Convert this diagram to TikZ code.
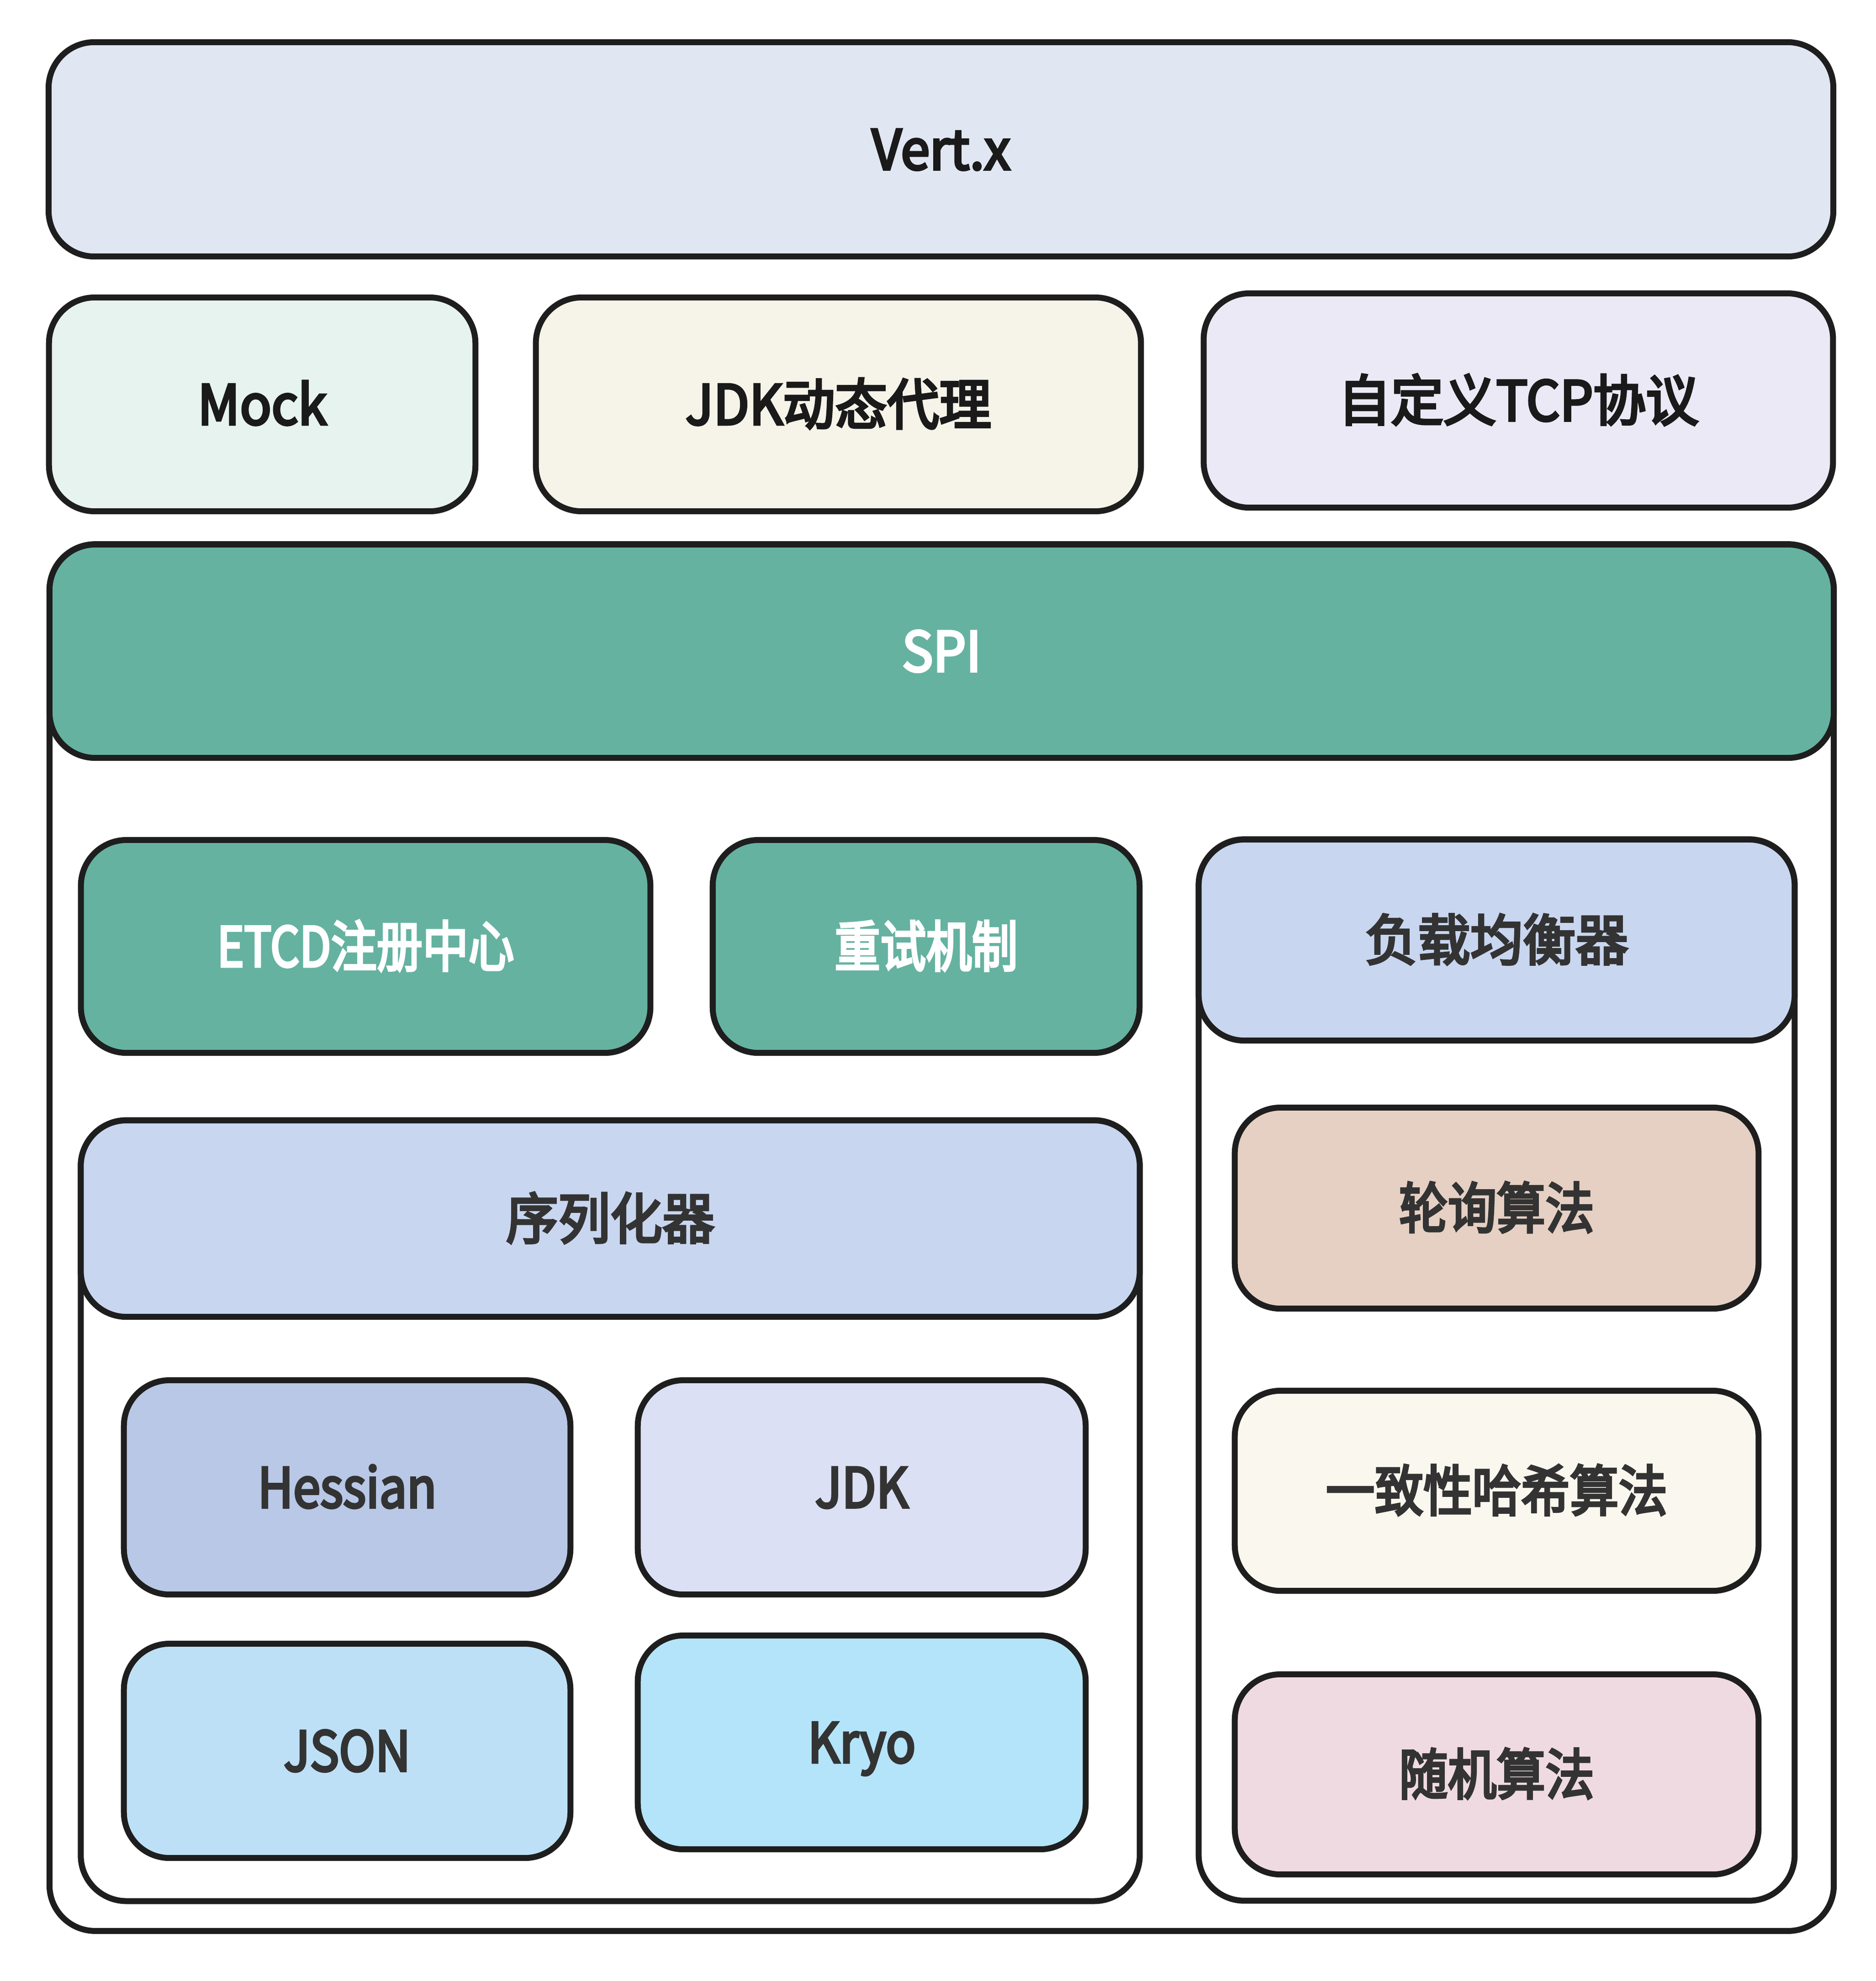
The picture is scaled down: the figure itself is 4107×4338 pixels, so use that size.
\documentclass[tikz,border=0pt]{standalone}
\usepackage{fontspec}
\usepackage{graphicx}
\newfontfamily\cjkfont[FakeBold=4.5]{Noto Sans CJK SC}
\newcommand\sqz[2]{\scalebox{#1}[1]{#2}}
\definecolor{linec}{HTML}{1E1E1E}
\definecolor{txtdark}{HTML}{333333}
\definecolor{txtblack}{HTML}{1A1A1A}
\definecolor{cvertx}{HTML}{E0E6F2}
\definecolor{cmock}{HTML}{E6F3EF}
\definecolor{cproxy}{HTML}{F6F3E8}
\definecolor{ctcp}{HTML}{EBE9F6}
\definecolor{cgreen}{HTML}{65B2A1}
\definecolor{cheader}{HTML}{C8D6F0}
\definecolor{cround}{HTML}{E5D0C3}
\definecolor{chash}{HTML}{FAF7EE}
\definecolor{crand}{HTML}{F0DAE1}
\definecolor{chess}{HTML}{B8C8E6}
\definecolor{cjdk}{HTML}{DBE0F4}
\definecolor{cjson}{HTML}{BEE0F6}
\definecolor{ckryo}{HTML}{B3E4FA}
\tikzset{
  box/.style={draw=linec, line width=0.13cm, rounded corners=1cm, inner sep=0pt,
    font={\cjkfont\fontsize{34.14pt}{40pt}\selectfont}, text=txtdark,
    text height=0.88cm, text depth=0cm, align=center},
  frame/.style={box, fill=white},
  dims/.style 2 args={minimum width=#1cm, minimum height=#2cm}
}
\begin{document}
\begin{tikzpicture}[x=0.01cm,y=-0.01cm]
\useasboundingbox (0,0) rectangle (4107,4338);
% top layer
\node[box, fill=cvertx, text=txtblack, dims={39.05}{4.69}] (vertx) at (2060,327) {\sqz{0.95}{Vert.x}};
\node[box, fill=cmock, text=txtblack, dims={9.33}{4.68}] (mock) at (574,885.5) {\sqz{0.95}{Mock}};
\node[box, fill=cproxy, text=txtblack, dims={13.24}{4.68}] (proxy) at (1835.5,885.5) {\sqz{0.95}{JDK动态代理}};
\node[box, fill=ctcp, text=txtblack, dims={13.77}{4.69}] (tcp) at (3324,877) {\sqz{0.96}{自定义TCP协议}};
% SPI container
\node[frame, dims={39.04}{30.35}] (spiframe) at (2061.5,2710) {};
\node[box, fill=cgreen, text=white, dims={39.04}{4.67}] (spi) at (2061.5,1426) {\sqz{0.95}{SPI}};
\node[box, fill=cgreen, text=white, dims={12.46}{4.66}] (etcd) at (800.5,2072.5) {\sqz{0.835}{ETCD注册中心}};
\node[box, fill=cgreen, text=white, dims={9.34}{4.66}] (retry) at (2027.5,2072.5) {\sqz{0.835}{重试机制}};
% serializer container
\node[frame, dims={23.17}{17.09}] (serframe) at (1336,3308) {};
\node[box, fill=cheader, dims={23.17}{4.30}] (ser) at (1336,2668.5) {\sqz{0.95}{序列化器}};
\node[box, fill=chess, dims={9.77}{4.69}] (hessian) at (760,3257) {\sqz{0.89}{Hessian}};
\node[box, fill=cjdk, dims={9.80}{4.69}] (jdk) at (1886.5,3257) {\sqz{0.91}{JDK}};
\node[box, fill=cjson, dims={9.77}{4.69}] (json) at (760,3834) {\sqz{0.89}{JSON}};
\node[box, fill=ckryo, dims={9.80}{4.68}] (kryo) at (1886.5,3815.5) {\sqz{0.9}{Kryo}};
% load balancer container
\node[frame, dims={13.04}{23.23}] (lbframe) at (3276.5,3000) {};
\node[box, fill=cheader, dims={13.04}{4.40}] (lb) at (3276.5,2058.5) {\sqz{0.96}{负载均衡器}};
\node[box, fill=cround, dims={11.46}{4.40}] (roundrobin) at (3276.5,2645.5) {\sqz{0.89}{轮询算法}};
\node[box, fill=chash, dims={11.46}{4.38}] (hash) at (3276.5,3264.5) {\sqz{0.89}{一致性哈希算法}};
\node[box, fill=crand, dims={11.46}{4.38}] (random) at (3276.5,3885.5) {\sqz{0.89}{随机算法}};
\end{tikzpicture}
\end{document}
